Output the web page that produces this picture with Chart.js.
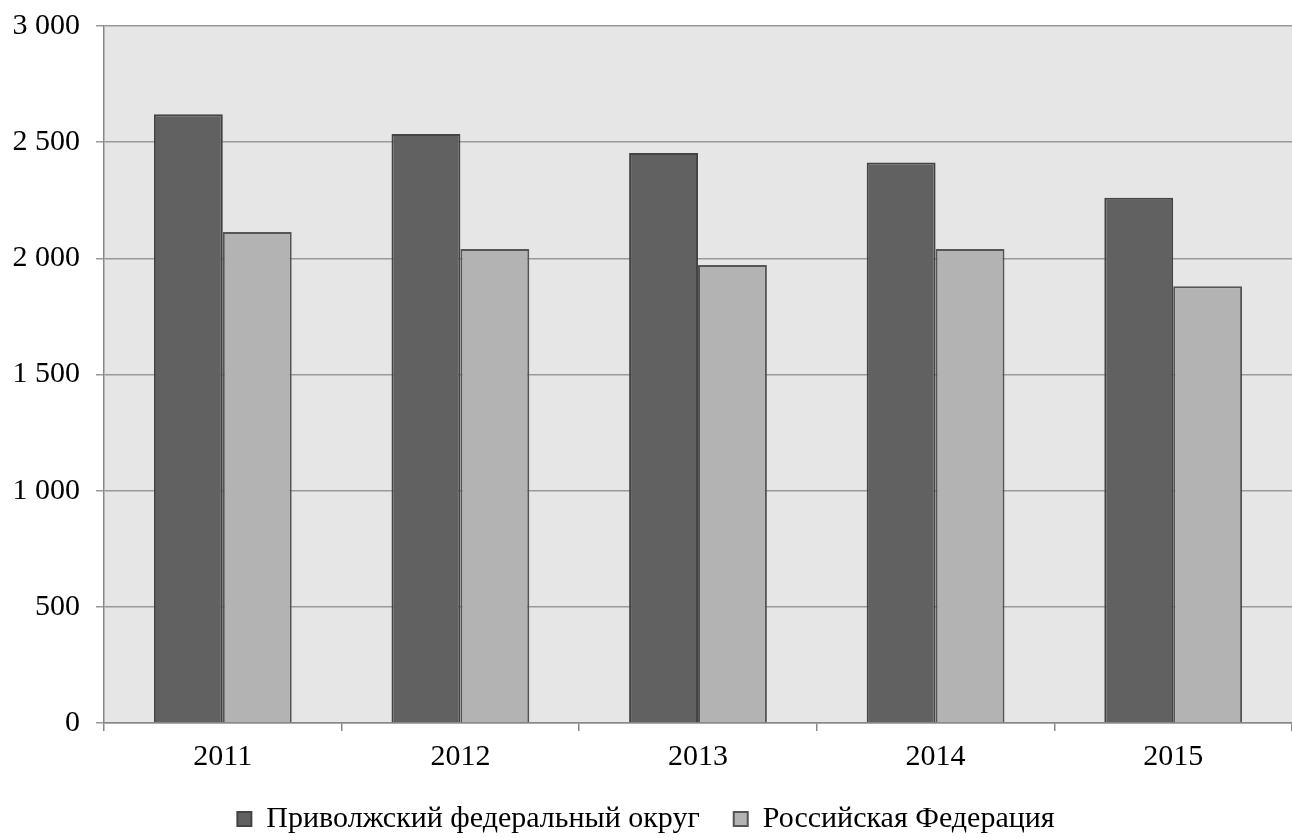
<!DOCTYPE html>
<html>
<head>
<meta charset="utf-8">
<script src="https://cdn.jsdelivr.net/npm/chart.js@4/dist/chart.umd.min.js"></script>
<style>
  body { margin: 0; background: #fff; }
  #wrap { width: 1292px; height: 838px; position: relative; }
</style>
</head>
<body>
<div id="wrap"><canvas id="chart"></canvas></div>
<script>
const years = ['2011', '2012', '2013', '2014', '2015'];
const volga = [2620, 2535, 2453, 2413, 2261];
const russia = [2113, 2040, 1971, 2040, 1880];
const seriesNames = ['Приволжский федеральный округ', 'Российская Федерация'];

const plotBackground = {
    id: 'plotBackground',
    beforeDraw(chart) {
        const { ctx, chartArea: { left, top, width, height } } = chart;
        ctx.save();
        ctx.fillStyle = '#e6e6e6';
        ctx.fillRect(left, top, width, height);
        ctx.restore();
    }
};

const fontFamily = '"Liberation Serif", "Times New Roman", serif';

new Chart(document.getElementById('chart'), {
    type: 'bar',
    plugins: [plotBackground],
    data: {
        labels: years,
        datasets: [
            {
                label: seriesNames[0],
                data: volga,
                backgroundColor: '#616161',
                borderColor: '#444444',
                borderWidth: 2,
                borderSkipped: 'bottom'
            },
            {
                label: seriesNames[1],
                data: russia,
                backgroundColor: '#b3b3b3',
                borderColor: '#555555',
                borderWidth: 2,
                borderSkipped: 'bottom'
            }
        ]
    },
    options: {
        responsive: true,
        maintainAspectRatio: false,
        animation: false,
        // negative bottom pad: legend box carries 10px of dead space below its row
        layout: { padding: { top: 26, right: 0, left: 0, bottom: -6 } },
        datasets: {
            bar: { categoryPercentage: 0.58, barPercentage: 1 }
        },
        scales: {
            x: {
                afterFit: scale => { scale.height = 47; },
                grid: {
                    offset: true,
                    drawOnChartArea: false,
                    color: '#888888',
                    tickLength: 8,
                    lineWidth: 1.5
                },
                border: { color: '#888888', width: 1.5 },
                ticks: {
                    color: '#000',
                    padding: 8,
                    font: { family: fontFamily, size: 30 }
                }
            },
            y: {
                min: 0,
                max: 3000,
                afterFit: scale => { scale.width = 104; },
                grid: {
                    color: '#999999',
                    tickLength: 8,
                    lineWidth: 1.5
                },
                border: { color: '#888888', width: 1.5 },
                ticks: {
                    stepSize: 500,
                    color: '#000',
                    padding: 16,
                    font: { family: fontFamily, size: 30, lineHeight: 0.6 },
                    callback: value => String(value).replace(/\B(?=(\d{3})+(?!\d))/g, ' ')
                }
            }
        },
        plugins: {
            legend: {
                position: 'bottom',
                labels: {
                    color: '#000',
                    boxWidth: 14,
                    boxHeight: 14,
                    padding: 34,
                    font: { family: fontFamily, size: 30 }
                }
            },
            tooltip: { enabled: false }
        }
    }
});
</script>
</body>
</html>
